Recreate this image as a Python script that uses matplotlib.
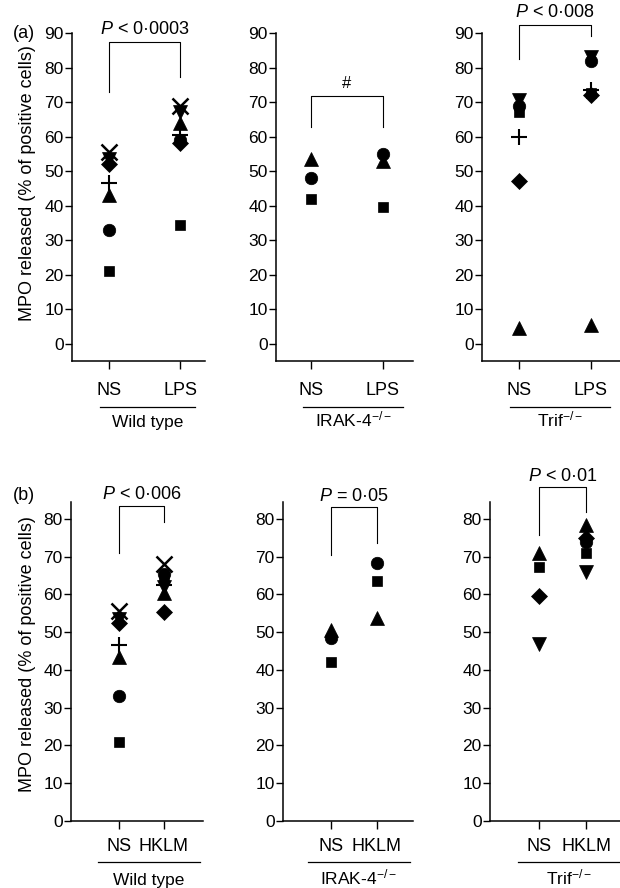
import numpy as np
import matplotlib.pyplot as plt
from matplotlib import transforms

plt.rcParams['font.family'] = ['Liberation Sans', 'DejaVu Sans']
plt.rcParams['mathtext.fontset'] = 'custom'
plt.rcParams['mathtext.rm'] = 'Liberation Sans'
plt.rcParams['mathtext.it'] = 'Liberation Sans:italic'

# marker order: square, circle, up-triangle, down-triangle, diamond, x, plus
shapes = ['s', 'o', '^', 'v', 'D', 'x', '+']
nan = np.nan

# (a) NS vs LPS
wt_ns = [21, 33, 43, 53.5, 52, 55.5, 46.5]
wt_lps = [34.5, 59, 64, 67, 58, 69, 60.5]
irak_ns = [42, 48, 53.5, nan, nan, nan, nan]
irak_lps = [39.5, 55, 53, nan, nan, nan, nan]
trif_ns = [67, 69, 4.5, 70.5, 47, nan, 60]
trif_lps = [72.5, 82, 5.5, 83, 72, nan, 73.5]

# (b) NS vs HKLM
wt_ns_b = [21, 33, 43.5, 53.5, 52.5, 55.5, 46.5]
wt_hklm = [64, 65.5, 60.5, 62, 55.3, 68, 62.5]
irak_ns_b = [42, 48.5, 50.5, nan, nan, nan, nan]
irak_hklm = [63.5, 68.3, 53.8, nan, nan, nan, nan]
trif_ns_b = [67.3, nan, 71, 47, 59.5, nan, nan]
trif_hklm = [71, 74, 78.5, 66, 75, nan, nan]

groups = ['Wild type', r'IRAK-4$^{-/-}$', r'Trif$^{-/-}$']
p_a = [r'$P$ < 0·0003', '#', r'$P$ < 0·008']
p_b = [r'$P$ < 0·006', r'$P$ = 0·05', r'$P$ < 0·01']

ms = {'s': 7.5, 'o': 9, '^': 10.5, 'v': 10.5, 'D': 8, 'x': 11, '+': 11}
mew = {'x': 1.8, '+': 1.5}

fig = plt.figure(figsize=(6.2, 8.88), dpi=100)
W, H = 620, 888


def make_ax(left, right, top, bottom):
    return fig.add_axes([left / W, 1 - bottom / H, (right - left) / W, (bottom - top) / H])


def draw_points(ax, ns, stim):
    for k, m in enumerate(shapes):
        for x, v in ((0, ns[k]), (1, stim[k])):
            if np.isnan(v):
                continue
            ax.plot(x, v, marker=m, ms=ms[m], color='black', mew=mew.get(m, 0.5),
                    linestyle='none', clip_on=False)


def style(ax, ticks, cats, lim, xlim, pad):
    ax.set_xlim(*xlim)
    ax.set_ylim(*lim)
    ax.set_yticks(ticks)
    ax.set_xticks([0, 1])
    ax.set_xticklabels(cats, fontsize=13)
    ax.tick_params(axis='y', labelsize=12.5, length=5, width=1, pad=1)
    ax.tick_params(axis='x', length=6, width=1, pad=pad)
    for s in ('top', 'right'):
        ax.spines[s].set_visible(False)
    for s in ('left', 'bottom'):
        ax.spines[s].set_linewidth(1.1)


def bracket(ax, y_top, y_left, y_right, label, y_text, fs):
    ax.plot([0, 0, 1, 1], [y_left, y_top, y_top, y_right], color='black', lw=0.8, clip_on=False)
    ax.text(0.5, y_text, label, ha='center', va='center', fontsize=fs)


def group_line(ax, x0, x1, y_line, y_text, label):
    tr = transforms.blended_transform_factory(ax.transData, ax.transAxes)
    ax.plot([x0, x1], [y_line, y_line], color='black', lw=0.9, transform=tr, clip_on=False)
    ax.text((x0 + x1) / 2, y_text, label, transform=tr, ha='center', va='baseline', fontsize=12.5)


# ---- row (a)
top_a, bot_a = 33, 361
axs_a = [make_ax(72, 205, top_a, bot_a), make_ax(276, 413, top_a, bot_a), make_ax(482, 620, top_a, bot_a)]
xl_a = [(-0.52, 1.35), (-0.486, 1.417), (-0.514, 1.403)]
data_a = [(wt_ns, wt_lps), (irak_ns, irak_lps), (trif_ns, trif_lps)]
br_a = [(87.3, 72.8, 77.2, 91.0), (71.7, 62.7, 62.7, 75.5), (92.2, 82.4, 89.0, 95.8)]
gl_a = [(-0.13, 1.21), (-0.11, 1.28), (-0.125, 1.26)]
for i, ax in enumerate(axs_a):
    style(ax, np.arange(0, 91, 10), ['NS', 'LPS'], (-5, 90), xl_a[i], 9)
    draw_points(ax, *data_a[i])
    yt, yl, yr, ytx = br_a[i]
    bracket(ax, yt, yl, yr, p_a[i], ytx, 13 if i != 1 else 12)
    group_line(ax, gl_a[i][0], gl_a[i][1], -0.14, -0.2, groups[i])

# ---- row (b)
top_b, bot_b = 502, 821
axs_b = [make_ax(71, 203, top_b, bot_b), make_ax(283, 413, top_b, bot_b), make_ax(490, 620, top_b, bot_b)]
xl_b = [(-1.067, 1.867), (-1.043, 1.783), (-1.043, 1.723)]
data_b = [(wt_ns_b, wt_hklm), (irak_ns_b, irak_hklm), (trif_ns_b, trif_hklm)]
br_b = [(83.4, 71.0, 79.2, 86.6), (83.2, 70.5, 73.6, 86.0), (88.5, 75.8, 81.9, 91.3)]
gl_b = [(-0.47, 1.8), (-0.5, 1.72), (-0.45, 1.72)]
for i, ax in enumerate(axs_b):
    style(ax, np.arange(0, 81, 10), ['NS', 'HKLM'], (0, 84.5), xl_b[i], 6)
    draw_points(ax, *data_b[i])
    yt, yl, yr, ytx = br_b[i]
    bracket(ax, yt, yl, yr, p_b[i], ytx, 13)
    group_line(ax, gl_b[i][0], gl_b[i][1], -0.1285, -0.2, groups[i])

ylab = 'MPO released (% of positive cells)'
fig.text(28 / W, 1 - 183 / H, ylab, rotation=90, ha='center', va='center', fontsize=13)
fig.text(28 / W, 1 - 654 / H, ylab, rotation=90, ha='center', va='center', fontsize=13)
fig.text(24 / W, 1 - 33 / H, '(a)', ha='center', va='center', fontsize=13)
fig.text(24 / W, 1 - 495 / H, '(b)', ha='center', va='center', fontsize=13)

fig.savefig('out.png', dpi=100)
